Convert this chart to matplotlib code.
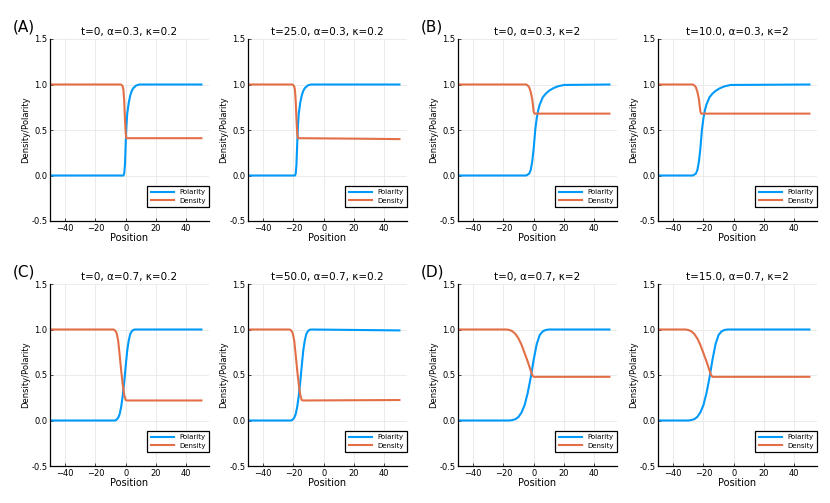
import numpy as np
import matplotlib.pyplot as plt

# one set per panel
titles = ['t=0, α=0.3, κ=0.2', 't=25.0, α=0.3, κ=0.2', 't=0, α=0.3, κ=2', 't=10.0, α=0.3, κ=2',
          't=0, α=0.7, κ=0.2', 't=50.0, α=0.7, κ=0.2', 't=0, α=0.7, κ=2', 't=15.0, α=0.7, κ=2']
panel_labels = ['(A)', '', '(B)', '', '(C)', '', '(D)', '']

pol_x1 = [-50, -1.5, -1, -0.5, 0, 0.5, 1, 2, 3, 4, 5, 7, 9, 50]
pol_y1 = [0, 0, 0.02, 0.12, 0.35, 0.55, 0.68, 0.8, 0.88, 0.93, 0.96, 0.99, 1.0, 1.0]
den_x1 = [-50, -3, -2, -1.5, -1, -0.5, 0, 0.5, 50]
den_y1 = [1, 1, 0.98, 0.94, 0.82, 0.62, 0.46, 0.41, 0.41]

pol_x2 = [-50, -19, -18.5, -18, -17.5, -17, -16.5, -15.5, -14.5, -13.5, -12.5, -10.5, -8.5, 50]
pol_y2 = [0, 0, 0.02, 0.12, 0.35, 0.55, 0.68, 0.8, 0.88, 0.93, 0.96, 0.99, 1.0, 1.0]
den_x2 = [-50, -20.5, -19.5, -19, -18.5, -18, -17.5, -17, 20, 50]
den_y2 = [1, 1, 0.98, 0.94, 0.82, 0.62, 0.46, 0.41, 0.405, 0.40]

pol_x3 = [-50, -5, -3, -2, -1, 0, 1, 2, 3, 4, 6, 8, 10, 13, 16, 20, 50]
pol_y3 = [0, 0, 0.02, 0.06, 0.15, 0.3, 0.5, 0.63, 0.72, 0.78, 0.86, 0.9, 0.93, 0.96, 0.98, 0.995, 1]
den_x3 = [-50, -5, -4, -3, -2, -1, -0.5, 0, 0.5, 50]
den_y3 = [1, 1, 0.99, 0.97, 0.92, 0.84, 0.77, 0.7, 0.68, 0.68]

pol_x4 = [-50, -27, -25, -24, -23, -22, -21, -20, -19, -18, -16, -14, -12, -9, -6, -2, 50]
pol_y4 = [0, 0, 0.02, 0.06, 0.15, 0.3, 0.5, 0.63, 0.72, 0.78, 0.86, 0.9, 0.93, 0.96, 0.98, 0.995, 1]
den_x4 = [-50, -27, -26, -25, -24, -23, -22.5, -22, -21.5, 50]
den_y4 = [1, 1, 0.99, 0.97, 0.92, 0.84, 0.77, 0.7, 0.68, 0.68]

pol_x5 = [-50, -7, -6, -5, -4, -3, -2, -1, 0, 1, 2, 3, 4, 5, 6, 50]
pol_y5 = [0, 0, 0.01, 0.03, 0.07, 0.15, 0.27, 0.42, 0.6, 0.77, 0.88, 0.95, 0.98, 0.995, 1, 1]
den_x5 = [-50, -8, -7, -6, -5, -4, -3, -2, -1, 0, 1, 50]
den_y5 = [1, 1, 0.99, 0.96, 0.88, 0.72, 0.55, 0.4, 0.28, 0.225, 0.22, 0.22]

pol_x6 = [-50, -21.5, -20.5, -19.5, -18.5, -17.5, -16.5, -15.5, -14.5, -13.5, -12.5, -11.5, -10.5, -9.5, -8.5, 50]
pol_y6 = [0, 0, 0.01, 0.03, 0.07, 0.15, 0.27, 0.42, 0.6, 0.77, 0.88, 0.95, 0.98, 0.995, 1, 0.99]
den_x6 = [-50, -22.5, -21.5, -20.5, -19.5, -18.5, -17.5, -16.5, -15.5, -14.5, -13.5, 50]
den_y6 = [1, 1, 0.99, 0.96, 0.88, 0.72, 0.55, 0.4, 0.28, 0.225, 0.22, 0.225]

pol_x7 = [-50, -16, -14, -12, -10, -8, -6, -4, -2, 0, 2, 4, 6, 8, 10, 50]
pol_y7 = [0, 0, 0.005, 0.015, 0.04, 0.09, 0.17, 0.3, 0.47, 0.67, 0.84, 0.94, 0.98, 0.995, 1, 1]
den_x7 = [-50, -18, -16, -14, -12, -10, -8, -6, -4, -2, -1, 0, 50]
den_y7 = [1, 1, 0.995, 0.98, 0.95, 0.9, 0.83, 0.74, 0.65, 0.55, 0.5, 0.48, 0.48]

pol_x8 = [-50, -30, -28, -26, -24, -22, -20, -18, -16, -14, -12, -10, -8, -6, -4, 50]
pol_y8 = [0, 0, 0.005, 0.015, 0.04, 0.09, 0.17, 0.3, 0.47, 0.67, 0.84, 0.94, 0.98, 0.995, 1, 1]
den_x8 = [-50, -32, -30, -28, -26, -24, -22, -20, -18, -16, -15, -14, 50]
den_y8 = [1, 1, 0.995, 0.98, 0.95, 0.9, 0.83, 0.74, 0.65, 0.55, 0.5, 0.48, 0.48]

pol = [(pol_x1, pol_y1), (pol_x2, pol_y2), (pol_x3, pol_y3), (pol_x4, pol_y4),
       (pol_x5, pol_y5), (pol_x6, pol_y6), (pol_x7, pol_y7), (pol_x8, pol_y8)]
den = [(den_x1, den_y1), (den_x2, den_y2), (den_x3, den_y3), (den_x4, den_y4),
       (den_x5, den_y5), (den_x6, den_y6), (den_x7, den_y7), (den_x8, den_y8)]

xticks = [-40, -20, 0, 20, 40]
yticks = [-0.5, 0.0, 0.5, 1.0, 1.5]

blue = '#009AFA'
orange = '#E36F47'

W, H = 830, 503
fig = plt.figure(figsize=(W / 100, H / 100), dpi=100)

lefts = [50, 248, 458, 658]
tops = [39, 284]
aw, ah = 159, 182

for i in range(8):
    r, c = i // 4, i % 4
    ax = fig.add_axes([lefts[c] / W, 1 - (tops[r] + ah) / H, aw / W, ah / H])
    ax.plot(pol[i][0], pol[i][1], color=blue, lw=1.5, label='Polarity')
    ax.plot(den[i][0], den[i][1], color=orange, lw=1.5, label='Density')
    ax.set_xlim(-50, 55)
    ax.set_ylim(-0.5, 1.5)
    ax.set_xticks(xticks)
    ax.set_yticks(yticks)
    ax.set_yticklabels(['%.1f' % v for v in yticks])
    ax.grid(True, color='#e8e8e8', lw=0.6)
    ax.set_axisbelow(True)
    for s in ['top', 'right']:
        ax.spines[s].set_visible(False)
    for s in ['left', 'bottom']:
        ax.spines[s].set_linewidth(0.9)
    ax.tick_params(direction='in', length=2, width=0.5, labelsize=6, pad=2)
    ax.set_title(titles[i], fontsize=7.5, pad=3)
    ax.set_xlabel('Position', fontsize=7, labelpad=0)
    ax.set_ylabel('Density/Polarity', fontsize=6, labelpad=1)
    leg = ax.legend(loc='lower right', bbox_to_anchor=(1.0, 14 / ah), fontsize=5,
                    fancybox=False, framealpha=1, edgecolor='black', borderaxespad=0,
                    borderpad=0.5, labelspacing=0.3, handlelength=3.4, handletextpad=0.7)
    leg.get_frame().set_linewidth(0.9)
    if panel_labels[i]:
        fig.text((lefts[c] - 37) / W, 1 - (tops[r] - 12) / H, panel_labels[i],
                 fontsize=11, ha='left', va='center')

fig.savefig('out.png', dpi=100)
